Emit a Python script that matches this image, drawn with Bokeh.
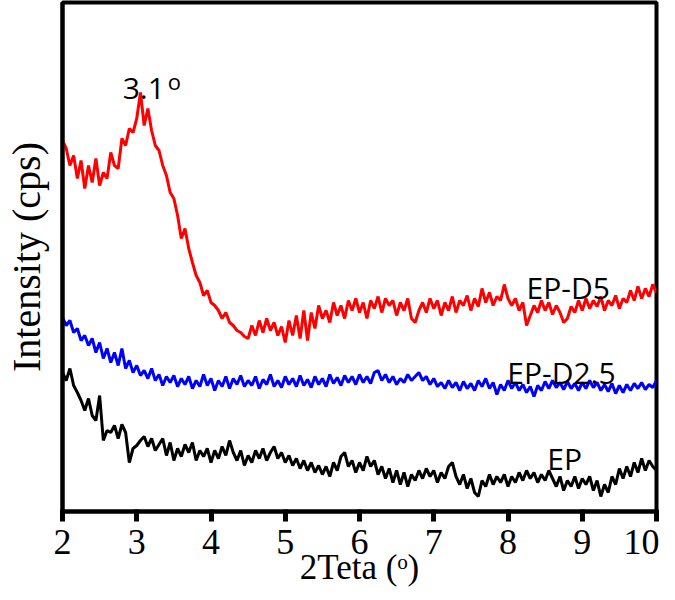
from bokeh.plotting import figure
from bokeh.models import Range1d, FixedTicker, ColumnDataSource
from bokeh.core.properties import value
from bokeh.embed import file_html
from bokeh.resources import INLINE

# 2-theta sampling grid (degrees)
two_theta = [round(2 + 0.05 * i, 2) for i in range(161)]

# Intensities (arbitrary units)
ep_d5 = [371, 363, 346, 356, 333, 351, 323, 346, 329, 353, 326, 339, 333, 359, 346, 343, 373, 366, 383, 379,
         393, 419, 386, 403, 381, 366, 361, 346, 336, 319, 313, 296, 273, 283, 263, 249, 236, 229, 216, 221,
         209, 206, 201, 193, 199, 189, 186, 181, 179, 175, 173, 186, 176, 191, 179, 193, 181, 189, 176, 185,
         169, 191, 176, 196, 173, 201, 171, 199, 183, 206, 193, 201, 189, 209, 196, 206, 193, 211, 201, 213,
         199, 209, 193, 211, 203, 215, 199, 213, 206, 211, 196, 209, 201, 213, 193, 189, 201, 209, 199, 213,
         203, 211, 196, 209, 201, 215, 199, 211, 206, 216, 201, 213, 205, 223, 209, 219, 206, 215, 211, 227,
         213, 206, 213, 201, 209, 186, 196, 206, 199, 211, 201, 209, 197, 206, 199, 189, 193, 205, 199, 211,
         201, 213, 203, 211, 205, 215, 201, 211, 206, 216, 203, 213, 209, 221, 211, 225, 213, 223, 215, 227,
         219]

ep_d25 = [194, 186, 191, 179, 183, 171, 176, 166, 173, 159, 169, 153, 163, 149, 159, 146, 163, 143, 151, 139,
          146, 136, 141, 133, 143, 131, 137, 126, 135, 129, 136, 125, 133, 127, 135, 123, 131, 125, 137, 126,
          133, 121, 131, 125, 135, 123, 133, 127, 136, 125, 131, 126, 135, 123, 132, 127, 137, 125, 131, 124,
          135, 127, 133, 125, 136, 126, 132, 124, 135, 127, 133, 125, 137, 128, 134, 126, 136, 129, 135, 127,
          137, 129, 135, 128, 139, 141, 131, 137, 129, 135, 127, 133, 129, 137, 131, 135, 139, 131, 135, 127,
          133, 125, 129, 123, 131, 124, 129, 121, 130, 123, 128, 121, 131, 125, 133, 123, 129, 117, 127, 121,
          131, 123, 129, 121, 127, 119, 125, 115, 126, 121, 130, 123, 131, 124, 129, 122, 130, 123, 128, 121,
          129, 123, 131, 124, 129, 121, 127, 120, 128, 118, 126, 119, 127, 121, 128, 123, 129, 122, 127, 124,
          131]

ep = [139, 131, 143, 126, 119, 111, 101, 113, 96, 91, 116, 71, 81, 79, 86, 73, 87, 79, 49, 63,
      66, 71, 75, 65, 73, 61, 67, 73, 56, 69, 51, 63, 55, 67, 59, 69, 51, 61, 55, 63,
      49, 61, 53, 65, 56, 71, 59, 51, 61, 46, 56, 49, 61, 53, 63, 51, 59, 65, 53, 59,
      49, 56, 46, 53, 43, 51, 41, 49, 39, 46, 37, 45, 35, 49, 41, 55, 59, 45, 51, 39,
      49, 41, 55, 45, 51, 37, 45, 33, 43, 29, 41, 27, 39, 25, 37, 31, 41, 33, 43, 35,
      41, 29, 39, 33, 45, 49, 35, 27, 37, 23, 33, 19, 15, 31, 25, 37, 27, 35, 29, 37,
      25, 35, 29, 39, 31, 41, 33, 39, 29, 37, 31, 41, 33, 25, 35, 21, 31, 25, 35, 23,
      33, 27, 35, 21, 31, 15, 27, 19, 35, 27, 43, 33, 45, 35, 49, 39, 53, 41, 51, 45,
      41]

x_ticks = [2, 3, 4, 5, 6, 7, 8, 9, 10]

series_names = ["EP-D5", "EP-D2.5", "EP"]
series_colors = ["#FF0000", "#0000FF", "#000000"]
label_x = [8.25, 7.99, 8.53]
label_y = [224, 139, 53]

peak_label = "3.1"
peak_x = 2.81
peak_y = 423

x_title = "2Teta (ᵒ)"
y_title = "Intensity (cps)"

p = figure(width=659, height=600, x_range=Range1d(2, 10), y_range=Range1d(0, 509),
           output_backend="svg", toolbar_location=None,
           min_border_left=59, min_border_top=2, min_border_right=3, min_border_bottom=89)

p.xgrid.visible = False
p.ygrid.visible = False
p.outline_line_color = "black"
p.outline_line_width = 4
p.background_fill_color = "white"
p.border_fill_color = "white"

for ys, col in zip([ep_d5, ep_d25, ep], series_colors):
    p.line(two_theta, ys, line_color=col, line_width=3)

# axes
p.xaxis.ticker = FixedTicker(ticks=x_ticks)
p.xaxis.axis_line_width = 4
p.xaxis.axis_line_color = "black"
p.xaxis.major_tick_line_color = "black"
p.xaxis.major_tick_line_width = 5
p.xaxis.major_tick_out = 10
p.xaxis.minor_tick_line_color = None
p.xaxis.major_label_text_font = "Liberation Serif"
p.xaxis.major_label_text_font_size = "36px"
p.xaxis.major_label_text_color = "black"
p.xaxis.major_label_standoff = 8
p.xaxis.axis_label = x_title
p.xaxis.axis_label_text_font = "Liberation Serif"
p.xaxis.axis_label_text_font_size = "35px"
p.xaxis.axis_label_text_font_style = "normal"
p.xaxis.axis_label_text_color = "black"
p.xaxis.axis_label_standoff = -9

p.yaxis.ticker = FixedTicker(ticks=[])
p.yaxis.axis_line_width = 4
p.yaxis.axis_line_color = "black"
p.yaxis.major_tick_line_color = None
p.yaxis.minor_tick_line_color = None
p.yaxis.axis_label = y_title
p.yaxis.axis_label_text_font = "Liberation Serif"
p.yaxis.axis_label_text_font_size = "40px"
p.yaxis.axis_label_text_font_style = "normal"
p.yaxis.axis_label_text_color = "black"
p.yaxis.axis_label_standoff = 14

# annotations
src = ColumnDataSource(dict(x=label_x, y=label_y, t=series_names))
p.text(x="x", y="y", text="t", source=src, text_font=value("Open Sans"),
       text_font_size="30px", text_color="black", text_baseline="alphabetic", text_align="left")
p.text(x=[peak_x], y=[peak_y], text=[peak_label], text_font=value("Open Sans"),
       text_font_size="30px", text_color="black", text_baseline="alphabetic", text_align="left")
p.text(x=[peak_x], y=[peak_y], text=["o"], text_font=value("Open Sans"), x_offset=45, y_offset=-8,
       text_font_size="22px", text_color="black", text_baseline="alphabetic", text_align="left")

open("out.html", "w").write(file_html(p, INLINE))
